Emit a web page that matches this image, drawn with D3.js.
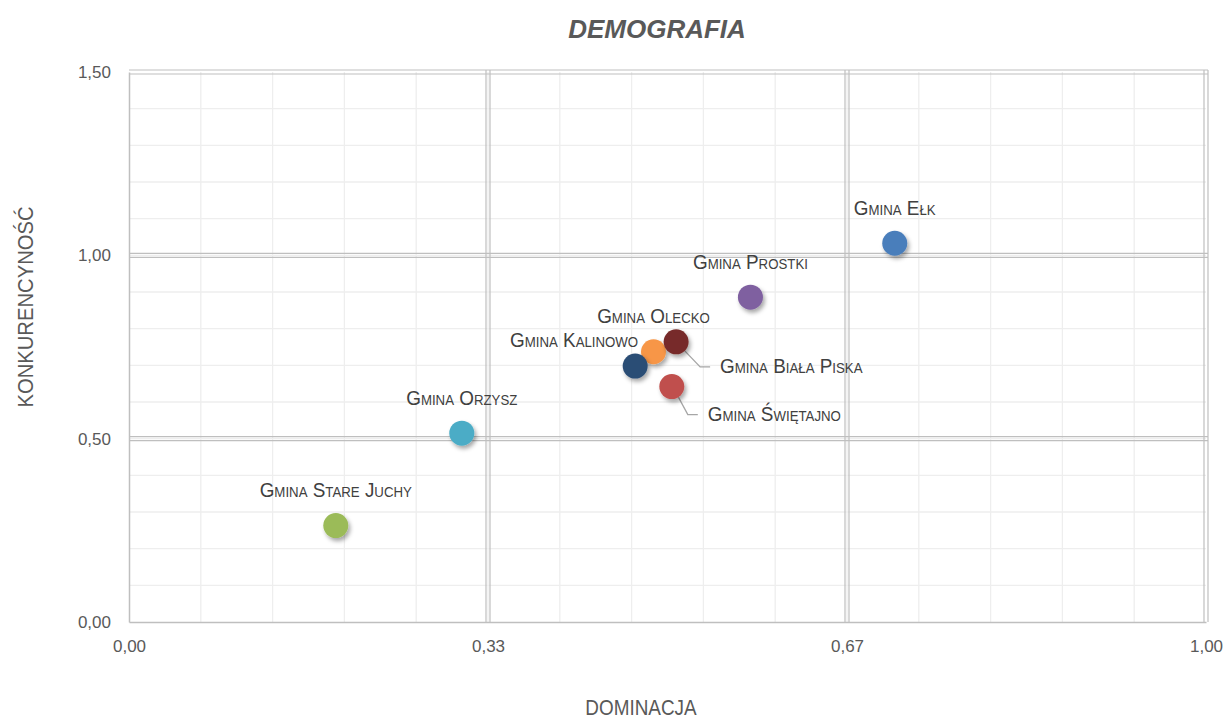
<!DOCTYPE html>
<html>
<head>
<meta charset="utf-8">
<script src="https://cdn.jsdelivr.net/npm/d3@7"></script>
<style>
  body { margin: 0; background: #fff; }
  svg text { fill: #595959; }
</style>
</head>
<body>
<div id="chart"></div>
<script>
// DATA
const gminy = ["Gmina Ełk", "Gmina Prostki", "Gmina Olecko", "Gmina Biała Piska",
  "Gmina Kalinowo", "Gmina Świętajno", "Gmina Orzysz", "Gmina Stare Juchy"]
const dominacja = [0.711, 0.577, 0.487, 0.508, 0.470, 0.504, 0.309, 0.192]
const konkurencyjnosc = [1.033, 0.886, 0.737, 0.764, 0.698, 0.642, 0.515, 0.263]
const xTicks = [0, 1/3, 2/3, 1]
const yTicks = [0, 0.5, 1, 1.5]

// kolory punktow
const colors = ["#4a7ebb", "#7f60a0", "#f79646", "#772c2a", "#2c4d75", "#c0504d", "#4bacc6", "#9bbb59"]
// przesuniecia etykiet [dx, dy, anchor, leader]
const labelPos = [
  [0, -28, "middle", false],
  [0, -28, "middle", false],
  [0, -29, "middle", false],
  [44, 31, "start", true],
  [3, -19, "end", false],
  [36, 34, "start", true],
  [0, -28, "middle", false],
  [0, -29, "middle", false]
]

const width = 1225, height = 718
const margin = {top: 72, right: 19, bottom: 96, left: 129}
const innerWidth = width - margin.left - margin.right
const innerHeight = height - margin.top - margin.bottom

const pl = d3.formatLocale({decimal: ",", thousands: " ", grouping: [3], currency: ["", " zł"]})
const fmt = pl.format(".2f")

const svg = d3.select("#chart").append("svg")
  .attr("width", width)
  .attr("height", height)
  .style("font-family", "'Liberation Sans', Arial, sans-serif")

const defs = svg.append("defs")
defs.append("filter").attr("id", "shadow")
  .attr("x", "-50%").attr("y", "-50%").attr("width", "200%").attr("height", "200%")
  .append("feDropShadow")
    .attr("dx", 2).attr("dy", 3).attr("stdDeviation", 2)
    .attr("flood-color", "#000").attr("flood-opacity", 0.35)

const xScale = d3.scaleLinear().domain([0, 1]).range([0, innerWidth])
const yScale = d3.scaleLinear().domain([0, 1.5]).range([innerHeight, 0])

const g = svg.append("g").attr("transform", `translate(${margin.left},${margin.top})`)

// minor grid
g.append("g").selectAll("line")
  .data(d3.range(1, 15).map(i => i / 15))
  .join("line")
    .attr("x1", d => xScale(d)).attr("x2", d => xScale(d))
    .attr("y1", 0).attr("y2", innerHeight)
    .attr("stroke", "#eeeeee").attr("stroke-width", 1.3)
g.append("g").selectAll("line")
  .data(d3.range(1, 15).map(i => i / 10))
  .join("line")
    .attr("y1", d => yScale(d)).attr("y2", d => yScale(d))
    .attr("x1", 0).attr("x2", innerWidth)
    .attr("stroke", "#eeeeee").attr("stroke-width", 1.3)

// major grid - double lines
const major = g.append("g").attr("stroke", "#bfbfbf").attr("stroke-width", 1.2)
xTicks.slice(1).forEach(t => {
  [-2, 2].forEach(o => {
    major.append("line")
      .attr("x1", xScale(t) + o).attr("x2", xScale(t) + o)
      .attr("y1", -2).attr("y2", innerHeight)
  })
})
yTicks.slice(1).forEach(t => {
  [-2, 2].forEach(o => {
    major.append("line")
      .attr("y1", yScale(t) + o).attr("y2", yScale(t) + o)
      .attr("x1", 0).attr("x2", innerWidth + 2)
  })
})

// axes
const xAxis = d3.axisBottom(xScale).tickValues(xTicks).tickFormat(fmt).tickSize(0).tickPadding(18)
const yAxis = d3.axisLeft(yScale).tickValues(yTicks).tickFormat(fmt).tickSize(0).tickPadding(18)

g.append("g")
  .attr("transform", `translate(0,${innerHeight})`)
  .call(xAxis)
  .call(a => a.select(".domain").attr("stroke", "#bfbfbf").attr("stroke-width", 1.5))
  .selectAll("text").attr("font-size", 17).attr("fill", "#595959")

g.append("g")
  .call(yAxis)
  .call(a => a.select(".domain").attr("stroke", "#bfbfbf").attr("stroke-width", 1.5))
  .selectAll("text").attr("font-size", 17).attr("fill", "#595959")

// points
const data = gminy.map((n, i) => ({name: n, x: dominacja[i], y: konkurencyjnosc[i], c: colors[i], lp: labelPos[i]}))

// leader lines
g.append("g").selectAll("polyline")
  .data(data.filter(d => d.lp[3]))
  .join("polyline")
    .attr("points", d => {
      const cx = xScale(d.x), cy = yScale(d.y)
      const ex = cx + d.lp[0] - 10, ey = cy + d.lp[1] - 6
      return `${cx + 2},${cy + 2} ${ex - 10},${ey} ${ex},${ey}`
    })
    .attr("fill", "none").attr("stroke", "#a6a6a6").attr("stroke-width", 1.3)

g.append("g").selectAll("circle")
  .data(data)
  .join("circle")
    .attr("cx", d => xScale(d.x))
    .attr("cy", d => yScale(d.y))
    .attr("r", 12.5)
    .attr("fill", d => d.c)
    .attr("filter", "url(#shadow)")

// labels (condensed like Arial Narrow)
g.append("g").selectAll("text")
  .data(data)
  .join("text")
    .attr("transform", d => `translate(${xScale(d.x) + d.lp[0]},${yScale(d.y) + d.lp[1]}) scale(0.9,1)`)
    .attr("text-anchor", d => d.lp[2])
    .attr("font-size", 21)
    .style("font-variant", "small-caps")
    .style("fill", "#404040")
    .text(d => d.name)

// title
svg.append("text")
  .attr("x", 657).attr("y", 38)
  .attr("text-anchor", "middle")
  .attr("font-size", 26).attr("font-weight", "bold").attr("font-style", "italic")
  .text("DEMOGRAFIA")

// axis titles
svg.append("text")
  .attr("transform", "translate(641,715) scale(0.86,1)")
  .attr("text-anchor", "middle")
  .attr("font-size", 22)
  .text("DOMINACJA")

svg.append("text")
  .attr("transform", "translate(33,307) rotate(-90) scale(0.92,1)")
  .attr("text-anchor", "middle")
  .attr("font-size", 22)
  .text("KONKURENCYNOŚĆ")
</script>
</body>
</html>
